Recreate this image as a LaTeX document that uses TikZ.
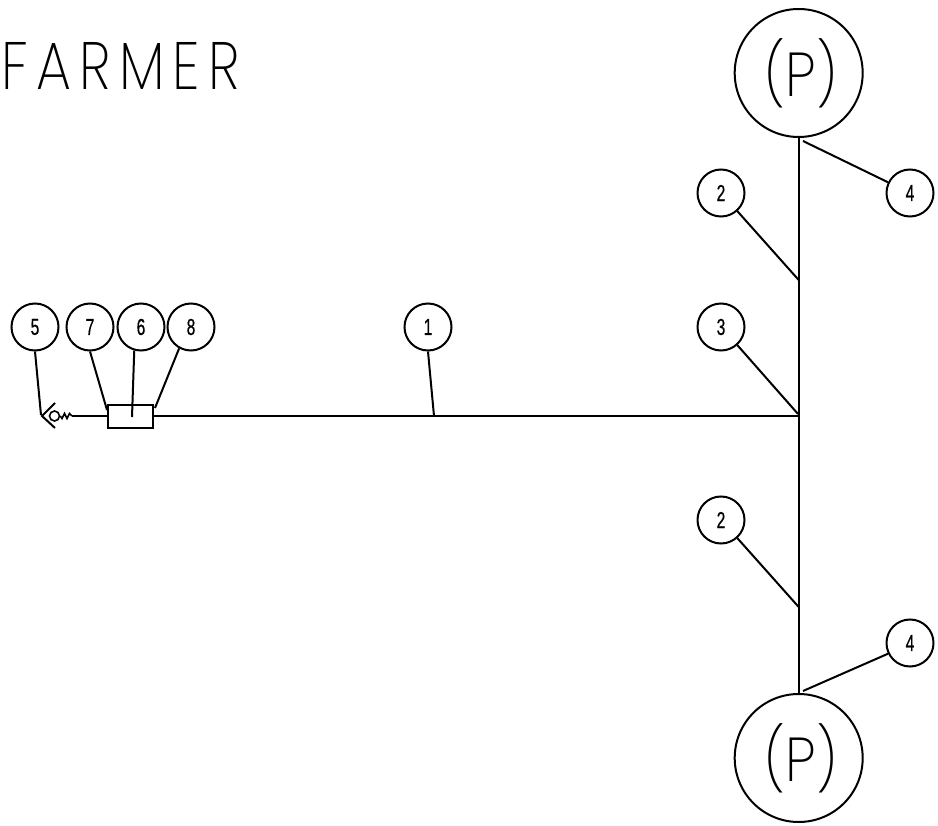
\documentclass[tikz,border=0pt]{standalone}
\usepackage{fontspec}
\setmainfont{Lato}
\newfontfamily\thinfont[LetterSpace=15]{Poppins ExtraLight}
\newfontfamily\pfont{Poppins ExtraLight}
\newfontfamily\numfont[FakeBold=0.8]{Liberation Sans}
\tikzset{
  ln/.style={line width=2pt,black},
  tag/.style={circle,draw,line width=2pt,minimum size=47pt,inner sep=0pt,font=\numfont\fontsize{23pt}{23pt}\selectfont},
  pump/.style={circle,draw,line width=2pt,minimum size=128pt,inner sep=0pt,font=\pfont\fontsize{62pt}{62pt}\selectfont},
  boxn/.style={rectangle,draw,line width=2pt,minimum width=45pt,minimum height=23pt,inner sep=0pt},
  title/.style={anchor=west,inner sep=0pt,font=\thinfont\fontsize{67pt}{67pt}\selectfont}
}
\newcommand{\nm}[1]{\scalebox{.68}[1]{#1}}
\newcommand{\pp}{\hspace*{5pt}\raisebox{3pt}{\scalebox{.9}[1]{(P)}}}
\begin{document}
\begin{tikzpicture}[x=1pt,y=-1pt]
\useasboundingbox (0,0) rectangle (938,826);
\node[title] (t) at (1,66) {\scalebox{.83}[1]{FARMER}};
\node[pump] (p1) at (798.7,73) {\pp};
\node[pump] (p2) at (798.7,758) {\pp};
\node[tag] (c5) at (35,327) {\nm{5}};
\node[tag] (c7) at (90,327) {\nm{7}};
\node[tag] (c6) at (141,327) {\nm{6}};
\node[tag] (c8) at (191,327) {\nm{8}};
\node[tag] (c1) at (428,327) {\nm{1}};
\node[tag] (c3) at (721,327) {\nm{3}};
\node[tag] (c2a) at (721,193) {\nm{2}};
\node[tag] (c2b) at (721,520) {\nm{2}};
\node[tag] (c4a) at (910,193) {\nm{4}};
\node[tag] (c4b) at (910,643) {\nm{4}};
\node[boxn] (box) at (130.5,416.5) {};
\coordinate (apex) at (42,416);
\coordinate (valtop) at (55,403);
\coordinate (valbot) at (55,428);
\coordinate (ball) at (54.5,416);
\coordinate (junc) at (798.7,416);
\coordinate (springend) at (72,416);
\coordinate (j1) at (434,416);
\coordinate (j3) at (798,414);
\coordinate (j2a) at (798.7,280);
\coordinate (j2b) at (798.7,607);
\coordinate (j4a) at (803,141);
\coordinate (j4b) at (803,691);
\coordinate (j5) at (41,415);
\coordinate (j7) at (107,410);
\coordinate (j6) at (132,417);
\coordinate (j8) at (155,408);
\draw[ln] (p1.south) -- (p2.north);
\draw[ln] (box.east |- junc) -- (junc);
\draw[ln] (springend) -- (box.west |- springend);
\draw[ln,line join=miter] (valtop) -- (apex) -- (valbot);
\node[circle,draw,line width=1.6pt,minimum size=10pt,inner sep=0pt] (b) at (ball) {};
\draw[line width=1.6pt] (b.east) -- (62,418.5) -- (64.5,413.5) -- (67,418.5) -- (69.5,413.5) -- (springend);
\draw[ln] (c5.south) -- (j5);
\draw[ln] (c7.south) -- (j7);
\draw[ln] (c6.-106) -- (j6);
\draw[ln] (c8.-119) -- (j8);
\draw[ln] (c1.south) -- (j1);
\draw[ln] (c3.-48) -- (j3);
\draw[ln] (c2a.-48) -- (j2a);
\draw[ln] (c2b.-48) -- (j2b);
\draw[ln] (c4a.154) -- (j4a);
\draw[ln] (c4b.206) -- (j4b);
\end{tikzpicture}
\end{document}
